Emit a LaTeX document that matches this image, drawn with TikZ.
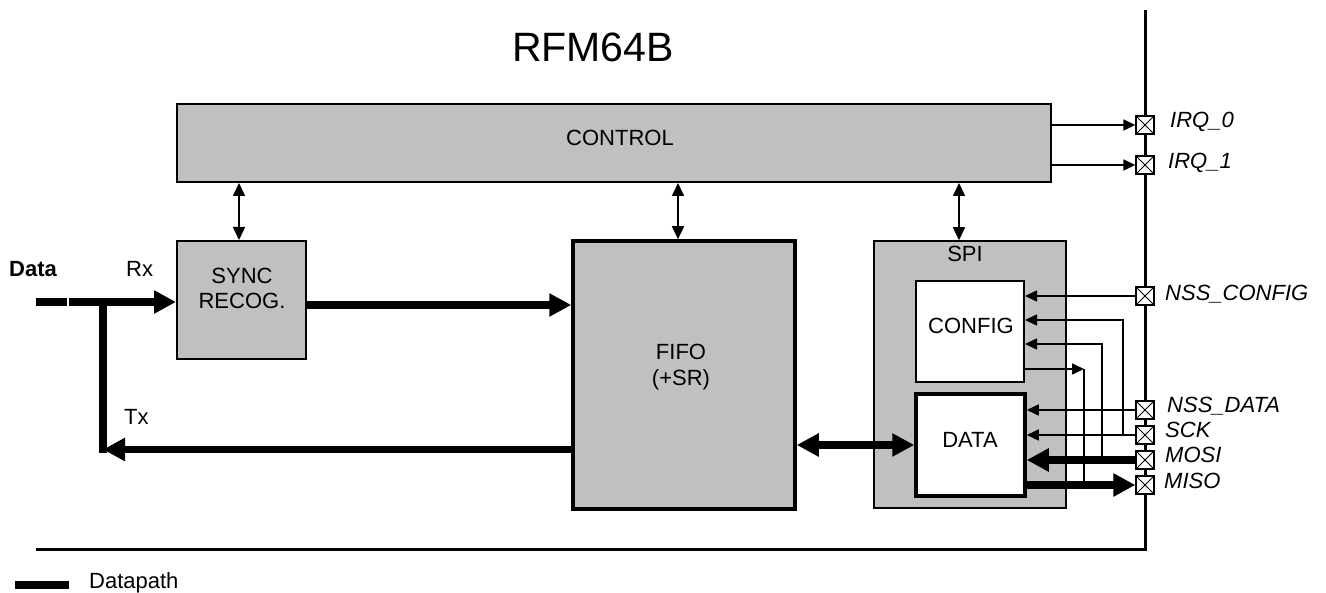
\documentclass[tikz,border=0pt]{standalone}
\usepackage{fontspec}
\setmainfont{Liberation Sans}
\usetikzlibrary{arrows.meta}
\definecolor{sgray}{HTML}{C0C0C0}
\begin{document}
\begin{tikzpicture}[x=1pt,y=-1pt,
  gbox/.style={draw, fill=sgray, line width=2pt, inner sep=0pt},
  wbox/.style={draw, fill=white, line width=2pt, inner sep=0pt},
  lbl/.style={font=\fontsize{22}{26}\selectfont, inner sep=0pt, anchor=base},
  plbl/.style={font=\fontsize{22}{26}\selectfont\itshape, inner sep=0pt, anchor=base west},
  pinbox/.style={draw, fill=white, line width=1.3pt, minimum size=18pt, inner sep=0pt,
    path picture={\draw[line width=1pt] (path picture bounding box.south west) -- (path picture bounding box.north east)
      (path picture bounding box.north west) -- (path picture bounding box.south east);}},
  thinarr/.style={line width=1.5pt, -{Triangle[length=12pt,width=11pt]}},
  thinline/.style={line width=1.5pt},
  ctl/.style={line width=1.6pt, {Triangle[length=13pt,width=12pt]}-{Triangle[length=13pt,width=12pt]}},
  dpath/.style={line width=7.5pt},
  dparr/.style={line width=7.5pt, -{Triangle[length=22pt,width=22pt]}},
  dpboth/.style={line width=7.5pt, {Triangle[length=22pt,width=22pt]}-{Triangle[length=22pt,width=22pt]}}
]
\useasboundingbox (0,0) rectangle (1326,593);

% frame (pin bar and bottom line)
\coordinate (fbl) at (36,549);
\coordinate (fbr) at (1145,549);
\coordinate (ftop) at (1145,10);
\draw[line width=3pt] (fbl) -- (fbr) -- (ftop);

% title
\node[font=\fontsize{41}{48}\selectfont, inner sep=0pt, anchor=base] (title) at (593,62) {RFM64B};

% boxes
\node[gbox, minimum width=874pt, minimum height=78pt] (control) at (614,143) {};
\node[gbox, minimum width=129pt, minimum height=118pt] (sync) at (241.5,300) {};
\node[gbox, line width=3.5pt, minimum width=222pt, minimum height=268pt] (fifo) at (684,375) {};
\node[gbox, line width=1.5pt, minimum width=192pt, minimum height=267pt] (spi) at (970,374.5) {};
\node[wbox, minimum width=108pt, minimum height=101pt] (config) at (970,331.5) {};
\node[wbox, line width=3.5pt, minimum width=109pt, minimum height=102pt] (data) at (970.5,445) {};

% box labels
\node[lbl] (tcontrol) at (620,146) {CONTROL};
\node[lbl] (tsync) at (242,284) {SYNC};
\node[lbl] (trecog) at (242,309) {RECOG.};
\node[lbl] (tfifo) at (681,360) {FIFO};
\node[lbl] (tsr) at (681,386) {(+SR)};
\node[lbl] (tspi) at (965,262) {SPI};
\node[lbl] (tconfig) at (971,334) {CONFIG};
\node[lbl] (tdata) at (970,448) {DATA};

% pins
\node[pinbox] (irq0) at (1145,125) {};
\node[pinbox] (irq1) at (1145,165) {};
\node[pinbox] (nsscfg) at (1145,296) {};
\node[pinbox] (nssdata) at (1145,410) {};
\node[pinbox] (sck) at (1145,435) {};
\node[pinbox] (mosi) at (1145,460) {};
\node[pinbox] (miso) at (1145,485) {};

\node[plbl] (lirq0) at (1170,128) {IRQ\_0};
\node[plbl] (lirq1) at (1168,169) {IRQ\_1};
\node[plbl] (lnsscfg) at (1165,301) {NSS\_CONFIG};
\node[plbl] (lnssdata) at (1167,413) {NSS\_DATA};
\node[plbl] (lsck) at (1165,438) {SCK};
\node[plbl] (lmosi) at (1165,463) {MOSI};
\node[plbl] (lmiso) at (1164,489) {MISO};

% control arrows
\draw[ctl] ([xshift=-2.5pt]sync.north) -- ([xshift=-2.5pt]sync.north |- control.south);
\draw[ctl] ([xshift=-6pt]fifo.north) -- ([xshift=-6pt]fifo.north |- control.south);
\draw[ctl] ([xshift=-11pt]spi.north) -- ([xshift=-11pt]spi.north |- control.south);

% IRQ outputs
\draw[thinarr] (irq0.west -| control.east) -- (irq0.west);
\draw[thinarr] (irq1.west -| control.east) -- (irq1.west);

% data path left
\coordinate (d0) at (36,302);
\coordinate (d1) at (67,302);
\coordinate (d2) at (69,302);
\coordinate (txc) at (103,302);
\coordinate (txe) at (103,449.5);
\coordinate (txb) at (103,453);
\coordinate (s2f) at ([yshift=-5pt]sync.east);
\draw[dpath] (d0) -- (d1);
\draw[dparr] (d2) -- (d2 -| sync.west);
\draw[dpath] (txc) -- (txb);
\draw[dparr] (txe -| fifo.west) -- (txe);
\draw[dparr] (s2f) -- (s2f -| fifo.west);
\draw[dpboth] (data.west -| fifo.east) -- (data.west);

\node[font=\fontsize{22}{26}\selectfont\bfseries, inner sep=0pt, anchor=base west] (ldata) at (9,277) {Data};
\node[lbl, anchor=base west] (lrx) at (126,277) {Rx};
\node[lbl, anchor=base west] (ltx) at (124,425) {Tx};

% SPI wiring
\coordinate (sckv) at (1123,320);
\coordinate (mosiv) at (1102,344);
\coordinate (cfgo) at (1084,369);
\draw[thinarr] (nsscfg.west) -- (nsscfg.west -| config.east);
\draw[thinarr] (nssdata.west) -- (nssdata.west -| data.east);
\draw[thinarr] (sck.west) -- (sck.west -| data.east);
\draw[thinarr] (sckv |- sck.west) -- (sckv) -- (sckv -| config.east);
\draw[thinarr] (mosiv |- mosi.west) -- (mosiv) -- (mosiv -| config.east);
\draw[thinarr] (cfgo -| config.east) -- (cfgo);
\draw[thinline] (cfgo) -- (cfgo |- miso.west);
\draw[dparr] (mosi.west) -- (mosi.west -| data.east);
\draw[dparr] (miso.west -| data.east) -- (miso.west);

% legend
\coordinate (lg0) at (15,585);
\coordinate (lg1) at (69,585);
\draw[dpath] (lg0) -- (lg1);
\node[lbl, anchor=base west] (ldp) at (89,588) {Datapath};
\end{tikzpicture}
\end{document}
